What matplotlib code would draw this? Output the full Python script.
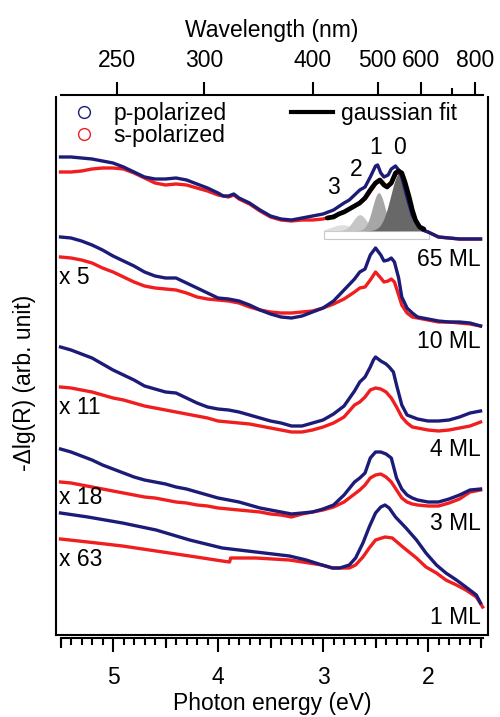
import numpy as np
import matplotlib.pyplot as plt
from matplotlib.lines import Line2D
from matplotlib.patches import Rectangle
from matplotlib.ticker import FixedLocator, MultipleLocator, NullLocator

plt.rcParams['font.family'] = ['Liberation Sans', 'DejaVu Sans']

HC = 1239.84  # eV * nm
BLUE = '#1c1c78'
RED = '#f01e1e'

# -dlg(R), stacked with offsets, arb. units vs photon energy (eV)
# 65 ML
e_65p = [5.5, 5.4, 5.3, 5.2, 5.1, 5.0, 4.9, 4.8, 4.7, 4.6, 4.5, 4.4, 4.3, 4.2, 4.1, 4.0, 3.95, 3.9, 3.85, 3.8,
         3.7, 3.6, 3.5, 3.4, 3.3, 3.2, 3.1, 3.0, 2.9, 2.8, 2.75, 2.7, 2.65, 2.6, 2.55, 2.5, 2.48, 2.45, 2.42,
         2.38, 2.35, 2.31, 2.28, 2.25, 2.2, 2.15, 2.1, 2.05, 2.0, 1.9, 1.8, 1.7, 1.6, 1.5]
r_65p = [478, 478, 477, 476, 474, 472, 468, 463, 458, 456, 456, 457, 455, 451, 447, 442, 439, 439, 441, 437,
         432, 425, 419, 416, 415, 417, 419, 421, 425, 432, 435, 440, 445, 448, 458, 469, 470, 462, 458,
         460, 466, 469, 465, 458, 438, 420, 410, 405, 403, 398, 397, 396, 396, 396]
e_65s = [5.5, 5.4, 5.3, 5.2, 5.1, 5.0, 4.9, 4.8, 4.7, 4.6, 4.5, 4.4, 4.3, 4.2, 4.1, 4.0, 3.9, 3.85, 3.8, 3.7,
         3.6, 3.5, 3.4, 3.3, 3.2, 3.1, 3.0, 2.9, 2.8, 2.7, 2.6, 2.5, 2.45, 2.4, 2.35, 2.3, 2.25, 2.2, 2.15,
         2.1, 2.05, 2.0, 1.9, 1.8, 1.7, 1.6, 1.5]
r_65s = [463, 463, 464, 466, 467, 467, 466, 462, 457, 452, 450, 451, 450, 447, 444, 440, 438, 440, 436, 431,
         424, 418, 415, 414, 415, 415, 416, 419, 423, 429, 436, 451, 455, 449, 452, 462, 461, 445, 425,
         410, 405, 403, 398, 397, 396, 396, 396]

# total gaussian fit of the 65 ML s-spectrum
e_fit = [2.96, 2.9, 2.85, 2.8, 2.75, 2.7, 2.65, 2.6, 2.55, 2.5, 2.46, 2.42, 2.39, 2.35, 2.31, 2.28, 2.25,
         2.22, 2.18, 2.15, 2.12, 2.08, 2.04]
r_fit = [417, 418, 421, 423, 426, 429, 432, 437, 445, 452, 455, 450, 448, 452, 462, 464, 462,
         453, 438, 425, 415, 408, 406]

# vibronic components 0-3: centre (eV), amplitude, sigma (eV)
peak_names = ['0', '1', '2', '3']
peak_center = [2.27, 2.47, 2.65, 2.82]
peak_amp = [58, 38, 16, 6]
peak_sigma = [0.085, 0.06, 0.065, 0.095]
peak_color = ['#686868', '#a6a6a6', '#c6c6c6', '#dedede']
peak_lbl_e = [2.276, 2.495, 2.686, 2.905]
peak_lbl_r = [487, 487, 465, 448]
fit_window = (2.99, 1.99)
fit_base = 404.3
fit_floor = 395.7

# 10 ML (x 5)
e_10 = [5.5, 5.4, 5.3, 5.2, 5.1, 5.0, 4.9, 4.8, 4.7, 4.6, 4.5, 4.4, 4.3, 4.2, 4.1, 4.0, 3.9, 3.8, 3.7, 3.6,
        3.5, 3.4, 3.3, 3.2, 3.1, 3.0, 2.9, 2.8, 2.7, 2.65, 2.6, 2.55, 2.5, 2.45, 2.42, 2.38, 2.35, 2.32,
        2.28, 2.25, 2.2, 2.15, 2.1, 2.0, 1.9, 1.8, 1.7, 1.6, 1.5]
r_10p = [398, 397, 394, 390, 385, 379, 374, 369, 363, 359, 357, 357, 352, 347, 342, 337, 336, 334, 330, 325,
         321, 318, 317, 319, 323, 327, 334, 345, 356, 363, 366, 380, 387, 380, 374, 375, 377, 373,
         357, 338, 327, 322, 318, 316, 314, 313, 313, 312, 309]
r_10s = [378, 377, 375, 372, 367, 363, 358, 353, 349, 347, 346, 345, 342, 338, 336, 335, 334, 332, 328, 325,
         323, 322, 322, 323, 324, 327, 331, 336, 343, 347, 348, 355, 363, 357, 353, 354, 356, 353,
         340, 330, 322, 318, 317, 315, 313, 313, 312, 311, 309]

# 4 ML (x 11)
e_4p = [5.5, 5.4, 5.3, 5.2, 5.1, 5.0, 4.9, 4.8, 4.7, 4.6, 4.5, 4.4, 4.3, 4.2, 4.1, 4.0, 3.9, 3.8, 3.7, 3.6,
        3.5, 3.4, 3.3, 3.2, 3.1, 3.0, 2.9, 2.8, 2.7, 2.65, 2.6, 2.55, 2.52, 2.5, 2.45, 2.4, 2.37, 2.33,
        2.3, 2.25, 2.2, 2.15, 2.1, 2.0, 1.9, 1.8, 1.7, 1.6, 1.5]
r_4p = [288, 285, 281, 277, 271, 265, 260, 255, 249, 246, 243, 242, 237, 232, 228, 226, 225, 223, 220, 217,
        214, 212, 209, 209, 212, 215, 221, 229, 244, 253, 258, 268, 275, 278, 274, 271, 268, 263,
        250, 230, 220, 218, 216, 214, 214, 215, 218, 222, 224]
e_4s = [5.5, 5.4, 5.3, 5.2, 5.1, 5.0, 4.9, 4.8, 4.7, 4.6, 4.5, 4.4, 4.3, 4.2, 4.1, 4.0, 3.9, 3.8, 3.7, 3.6,
        3.5, 3.4, 3.3, 3.2, 3.1, 3.0, 2.9, 2.8, 2.7, 2.65, 2.6, 2.55, 2.5, 2.45, 2.4, 2.35, 2.3, 2.25,
        2.2, 2.15, 2.1, 2.0, 1.9, 1.8, 1.7, 1.6, 1.5]
r_4s = [248, 247, 245, 243, 240, 237, 235, 232, 229, 227, 225, 223, 221, 219, 217, 214, 213, 212, 211, 209,
        207, 205, 203, 203, 205, 208, 212, 218, 230, 233, 238, 245, 247, 246, 243, 237, 228, 218,
        212, 208, 207, 205, 204, 205, 207, 209, 213]

# 3 ML (x 18)
e_3 = [5.5, 5.4, 5.3, 5.2, 5.1, 5.0, 4.9, 4.8, 4.7, 4.6, 4.5, 4.4, 4.3, 4.2, 4.1, 4.0, 3.9, 3.8, 3.7, 3.6,
       3.5, 3.4, 3.3, 3.2, 3.1, 3.0, 2.9, 2.8, 2.7, 2.65, 2.6, 2.55, 2.5, 2.45, 2.4, 2.35, 2.3, 2.25,
       2.2, 2.15, 2.1, 2.0, 1.9, 1.8, 1.7, 1.6, 1.5]
r_3p = [186, 183, 179, 175, 170, 166, 162, 158, 155, 153, 151, 148, 146, 143, 140, 137, 135, 133, 130, 127,
        125, 123, 121, 122, 123, 126, 130, 140, 153, 157, 162, 177, 183, 183, 181, 177, 157, 146,
        140, 137, 135, 133, 133, 136, 140, 145, 146]
r_3s = [153, 152, 150, 148, 146, 144, 142, 140, 138, 137, 135, 133, 132, 130, 129, 127, 126, 125, 124, 123,
        121, 120, 118, 121, 123, 125, 128, 133, 141, 145, 150, 157, 160, 161, 158, 153, 145, 137,
        133, 131, 130, 129, 129, 132, 136, 143, 145]

# 1 ML (x 63)
e_1p = [5.5, 5.24, 4.91, 4.59, 4.27, 3.96, 3.64, 3.32, 3.16, 3.01, 2.91, 2.84, 2.75, 2.69, 2.62, 2.56, 2.5,
        2.45, 2.41, 2.37, 2.31, 2.21, 2.11, 2.02, 1.92, 1.83, 1.73, 1.64, 1.54, 1.5]
r_1p = [122, 118, 112, 105, 95, 87, 83, 79, 75, 70, 67, 67, 70, 77, 92, 108, 122,
        128, 130, 127, 118, 107, 95, 82, 70, 62, 55, 48, 40, 32]
e_1s = [5.5, 5.24, 4.91, 4.59, 4.27, 3.96, 3.89, 3.88, 3.64, 3.32, 3.01, 2.91, 2.75, 2.69, 2.62, 2.56, 2.5,
        2.41, 2.34, 2.24, 2.11, 2.02, 1.92, 1.83, 1.73, 1.64, 1.54, 1.48]
r_1s = [96, 93, 89, 84, 79, 74, 73, 77, 77, 75, 70, 67, 67, 70, 78, 87, 95,
        98, 97, 88, 77, 68, 62, 55, 50, 45, 38, 28]

thickness = ['65 ML', '10 ML', '4 ML', '3 ML', '1 ML']
thickness_pos = [376, 294, 186, 111, 18]
scale = ['x 5', 'x 11', 'x 18', 'x 63']
scale_pos = [358, 228, 137, 76]

fig = plt.figure(figsize=(5, 7.17), dpi=100)
ax = fig.add_axes([56 / 500, 82 / 717, 432 / 500, 538 / 717])
ax.set_xlim(5.543, 1.429)
ax.set_ylim(0, 538)
ax.spines['top'].set_visible(False)
for s in ['left', 'right', 'bottom']:
    ax.spines[s].set_linewidth(1.5)
ax.tick_params(left=False, labelleft=False, bottom=False, labelbottom=False)

# gaussian components under the 65 ML trace
ax.add_patch(Rectangle((fit_window[1], fit_floor), fit_window[0] - fit_window[1], fit_base - fit_floor,
                       facecolor='white', edgecolor='#c8c8c8', lw=0.8, zorder=1))
eg = np.linspace(fit_window[0], fit_window[1], 300)
for c, a, sg, col in list(zip(peak_center, peak_amp, peak_sigma, peak_color))[::-1]:
    g = a * np.exp(-0.5 * ((eg - c) / sg) ** 2)
    ax.fill_between(eg, fit_base, fit_base + g, color=col, lw=0, zorder=2)

lw = 2.4
traces = [(e_65p, r_65p, e_65s, r_65s), (e_10, r_10p, e_10, r_10s), (e_4p, r_4p, e_4s, r_4s),
          (e_3, r_3p, e_3, r_3s), (e_1p, r_1p, e_1s, r_1s)]
for ep, rp, es, rs in traces:
    ax.plot(es, rs, color=RED, lw=lw, zorder=3, solid_joinstyle='round')
    ax.plot(ep, rp, color=BLUE, lw=lw, zorder=4, solid_joinstyle='round')
ax.plot(e_fit, r_fit, color='black', lw=3.4, zorder=5, solid_capstyle='round', solid_joinstyle='round')

fs = 16.5
for name, pe, pr in zip(peak_names, peak_lbl_e, peak_lbl_r):
    ax.text(pe, pr, name, fontsize=fs, ha='center', va='center')
for t, y in zip(thickness, thickness_pos):
    ax.text(1.50, y, t, fontsize=fs, ha='right', va='center')
for t, y in zip(scale, scale_pos):
    ax.text(5.515, y, t, fontsize=fs, ha='left', va='center')

handles = [Line2D([], [], ls='none', marker='o', mfc='none', mec=BLUE, ms=8.5, mew=1.0),
           Line2D([], [], ls='none', marker='o', mfc='none', mec=RED, ms=8.5, mew=1.0),
           Line2D([], [], color='black', lw=3)]
ax.legend(handles, ['p-polarized', 's-polarized', 'gaussian fit'], ncol=2, loc='upper left',
          bbox_to_anchor=(0.016, 0.991), frameon=False, fontsize=fs, handlelength=1.85,
          handletextpad=0.36, columnspacing=2.8, labelspacing=-0.05, borderpad=0, borderaxespad=0)

# photon energy axis, offset below the frame
off = -3 / 538
bax = ax.secondary_xaxis(off)
bax.xaxis.set_major_locator(FixedLocator([5, 4, 3, 2]))
bax.xaxis.set_minor_locator(MultipleLocator(0.1))
bax.tick_params(which='major', length=10, width=1.5, labelsize=fs, pad=10)
bax.tick_params(which='minor', length=5, width=1.5)
bax.spines['bottom'].set_linewidth(1.5)
bax.spines['bottom'].set_bounds(5.5, 1.48)
bax.set_xlabel('Photon energy (eV)', fontsize=fs, labelpad=2)

mid = ax.secondary_xaxis(off)
mid.xaxis.set_major_locator(FixedLocator([5.5, 4.5, 3.5, 2.5, 1.5]))
mid.xaxis.set_minor_locator(NullLocator())
mid.tick_params(which='major', length=7.5, width=1.5, labelbottom=False)
mid.spines['bottom'].set_visible(False)


def to_nm(x):
    x = np.asarray(x, dtype=float)
    with np.errstate(divide='ignore'):
        return HC / x


# wavelength axis on top
tax = ax.secondary_xaxis(1 + 2 / 538, functions=(to_nm, to_nm))
tax.xaxis.set_major_locator(FixedLocator([250, 300, 400, 500, 600, 800]))
tax.xaxis.set_minor_locator(FixedLocator([700]))
tax.set_xticklabels(['250', '300', '400', '500', '600', '800'])
tax.tick_params(which='major', length=9.5, width=1.5, labelsize=fs, pad=7)
tax.tick_params(which='minor', length=5, width=1.5)
tax.spines['top'].set_linewidth(1.5)
tax.spines['top'].set_bounds(HC / 5.5, HC / 1.48)
tax.set_xlabel('Wavelength (nm)', fontsize=fs, labelpad=9)

fig.text(25 / 500, 1 - 383 / 717, '-\u0394lg(R) (arb. unit)', fontsize=fs, rotation=90,
         ha='center', va='center')

fig.savefig('out.png', dpi=100)
